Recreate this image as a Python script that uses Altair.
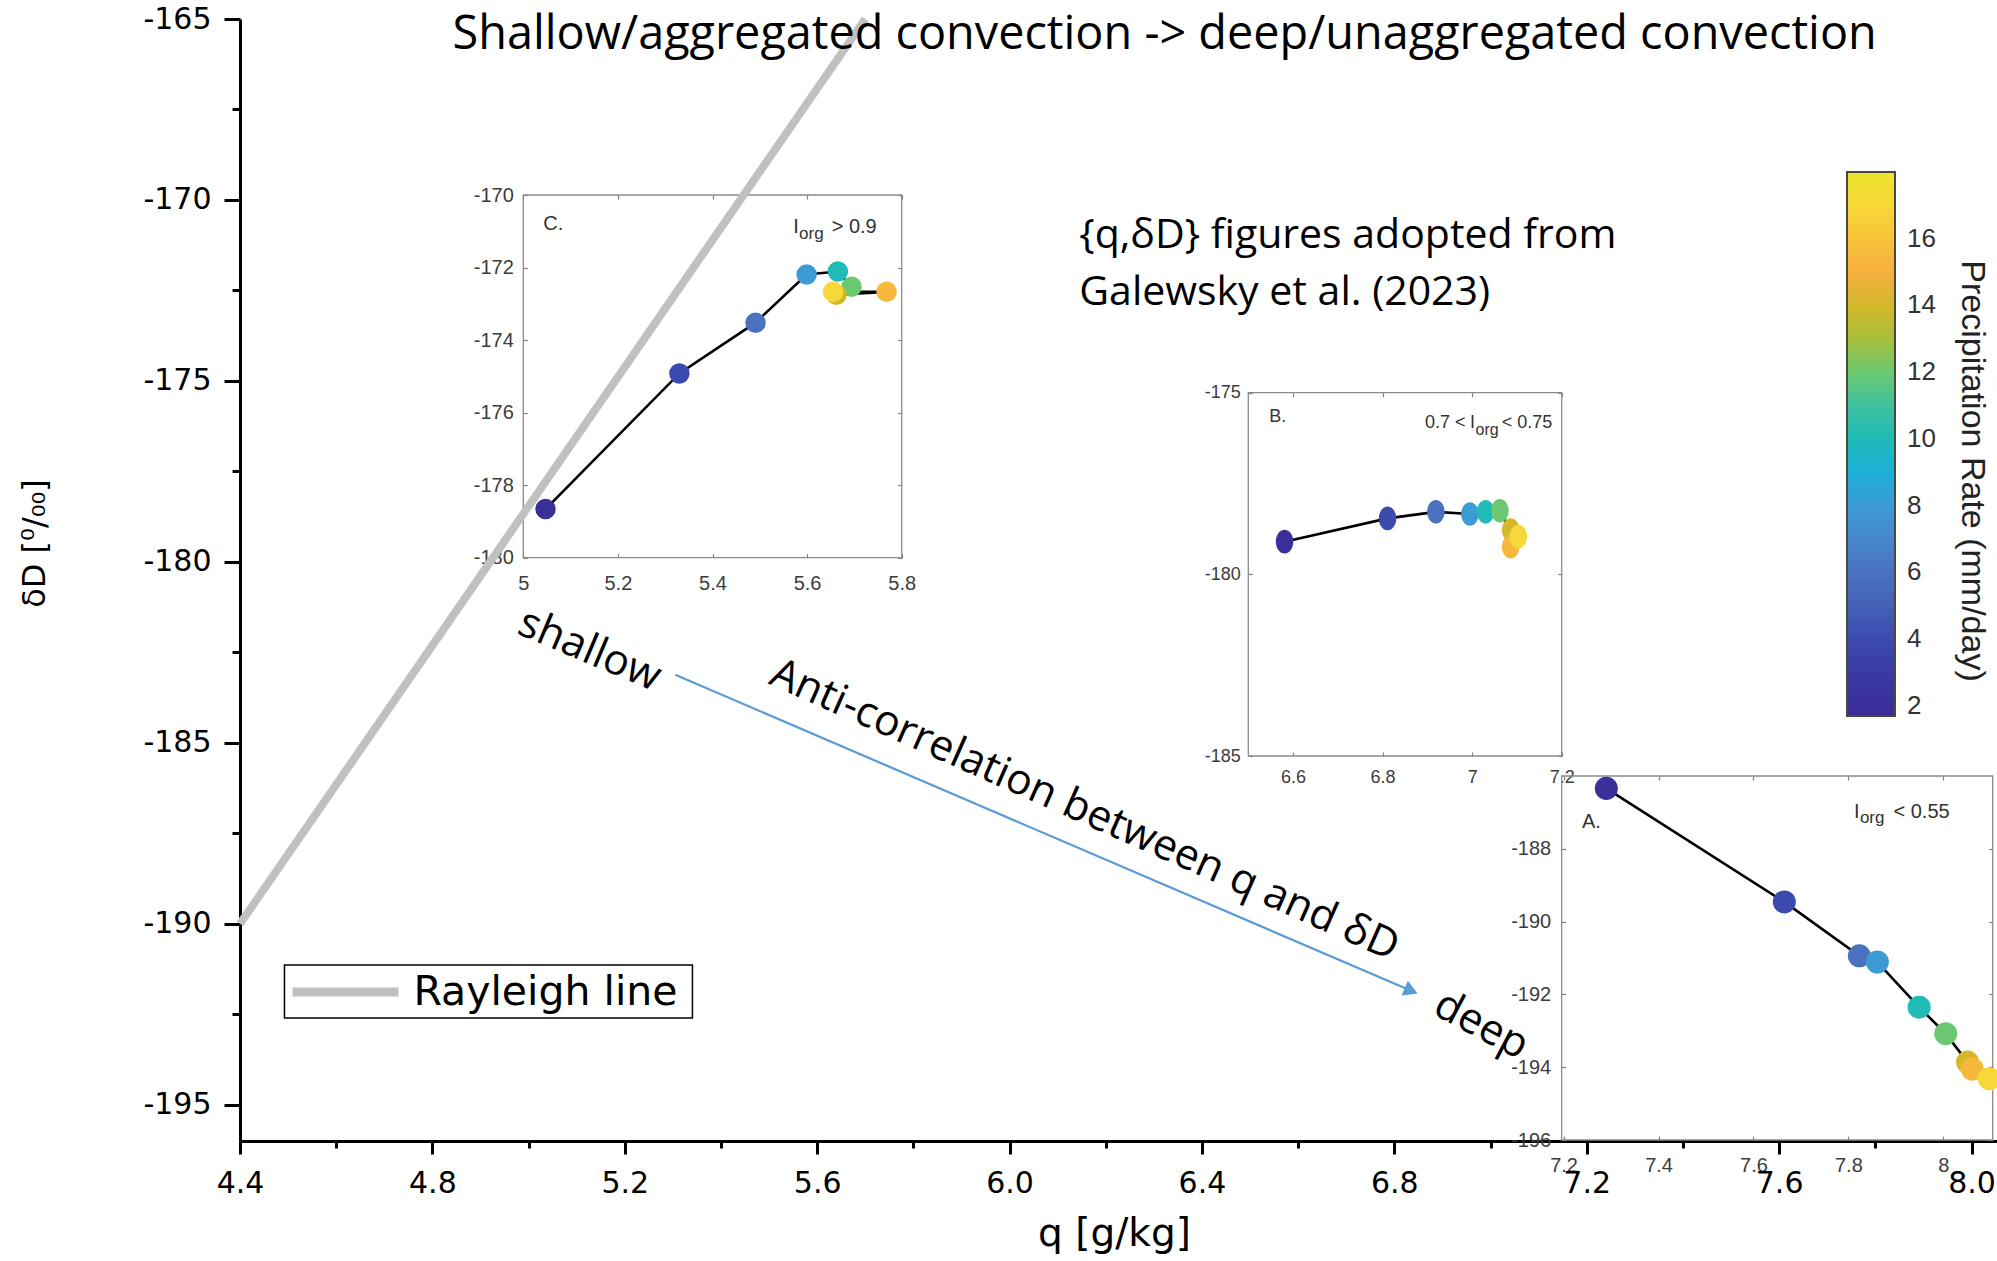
import altair as alt
import pandas as pd

W, H = 1757, 1122

# ---------------- main frame ----------------
MAIN_XD = [4.4, 8.053]
MAIN_YD = [-196.0, -165.0]
X_MAJOR = [4.4, 4.8, 5.2, 5.6, 6.0, 6.4, 6.8, 7.2, 7.6, 8.0]
X_MINOR = [4.6, 5.0, 5.4, 5.8, 6.2, 6.6, 7.0, 7.4, 7.8]
Y_MAJOR = [-195, -190, -185, -180, -175, -170, -165]
Y_MINOR = [-192.5, -187.5, -182.5, -177.5, -172.5, -167.5]

ray_q = [4.4, 5.70]
ray_dD = [-190.0, -165.0]

# legend (drawn in data space of the main axes)
leg_box_q, leg_box_dD = [4.4925, 5.3407], [-191.14, -192.60]
leg_line_q, leg_line_dD = [4.5092, 4.7296], [-191.886, -191.886]
leg_text, leg_text_q, leg_text_dD = ["Rayleigh line"], [4.7607], [-192.245]

arrow_q = [5.305, 6.835]
arrow_dD = [-183.12, -191.85]

title_text, title_q, title_dD = ["Shallow/aggregated convection -> deep/unaggregated convection"], [4.842], [-165.83]
ann_text = ["{q,δD} figures adopted from", "Galewsky et al. (2023)"]
ann_q = [6.145, 6.145]
ann_dD = [-171.0, -172.57]

rot_text = ["shallow", "Anti-correlation between q and δD", "deep"]
rot_q = [5.127, 6.156, 6.981]
rot_dD = [-182.44, -186.86, -192.80]
rot_angle = [23, 24, 28]

cbar_title = ["Precipitation Rate (mm/day)"]
cbar_title_q = [8.0]
cbar_title_dD = [-177.49]

# ---------------- colour scale (precipitation) ----------------
cbar_values = [2, 4, 6, 8, 10, 12, 14, 16]
cbar_domain = [1.7, 3, 4, 5, 6, 7, 8, 9, 10, 11, 12, 13, 14, 15, 16, 17, 18]
cbar_colors = ["#3b2c96", "#3a3aa4", "#3c4aae", "#4460b8", "#4a72c0", "#4888cc",
               "#3c9ad4", "#1cb0d8", "#20bab8", "#3ec2a0", "#6cc870", "#a8c03a",
               "#d4b82a", "#f5b040", "#f9c338", "#f6d838", "#eee42c"]

precip = [2, 4, 6, 8, 10, 12, 14, 15.5, 17]

# ---------------- inset data ----------------
C_q = [5.047, 5.330, 5.491, 5.599, 5.665, 5.694, 5.662, 5.768, 5.655]
C_dD = [-178.66, -174.92, -173.52, -172.19, -172.11, -172.53, -172.75, -172.67, -172.67]
B_q = [6.581, 6.811, 6.919, 6.995, 7.030, 7.062, 7.086, 7.086, 7.103]
B_dD = [-179.10, -178.46, -178.28, -178.34, -178.28, -178.25, -178.78, -179.24, -178.96]
A_q = [7.290, 7.665, 7.823, 7.861, 7.949, 8.005, 8.051, 8.061, 8.097]
A_dD = [-186.34, -189.46, -190.94, -191.11, -192.35, -193.08, -193.86, -194.05, -194.32]

C_xd, C_yd = [5.0, 5.8], [-180.0, -170.0]
B_xd, B_yd = [6.5, 7.2], [-185.0, -175.0]
A_xd, A_yd = [7.196, 8.104], [-196.0, -186.0]
C_xt, C_yt = [5.0, 5.2, 5.4, 5.6, 5.8], [-180, -178, -176, -174, -172, -170]
B_xt, B_yt = [6.6, 6.8, 7.0, 7.2], [-185, -180, -175]
A_xt, A_yt = [7.2, 7.4, 7.6, 7.8, 8.0], [-196, -194, -192, -190, -188]

C_lab, C_lab_q, C_lab_dD = ["C.", "I", "> 0.9"], [5.0423, 5.5708, 5.652], [-170.965, -171.056, -171.056]
C_sub, C_sub_q, C_sub_dD = ["org"], [5.5829], [-171.221]
B_lab, B_lab_q, B_lab_dD = ["B.", "0.7 <", "I", "< 0.75"], [6.547, 6.8947, 6.9952, 7.066], [-175.80, -175.98, -175.98, -175.98]
B_sub, B_sub_q, B_sub_dD = ["org"], [7.0075], [-176.164]
A_lab, A_lab_q, A_lab_dD = ["A.", "I", "< 0.55"], [7.2387, 7.812, 7.895], [-187.44, -187.164, -187.164]
A_sub, A_sub_q, A_sub_dD = ["org"], [7.8242], [-187.30]

# ---------------- layout (pixels inside the plot area) ----------------
TICK = 4
LAYOUT = {
    "C": dict(xr=[283.3, 661.7], yr=[538.7, 176.0], fs=20, sub=17, padx=16, pady=10),
    "B": dict(xr=[1008.3, 1321.7], yr=[737.0, 373.7], fs=18, sub=16, padx=12, pady=8),
    "A": dict(xr=[1321.7, 1752.7], yr=[1121.0, 757.0], fs=20, sub=17, padx=15, pady=11),
}
INSETS = {
    "C": dict(xd=C_xd, yd=C_yd, xt=C_xt, yt=C_yt, q=C_q, d=C_dD,
              lab=(C_lab, C_lab_q, C_lab_dD), sub=(C_sub, C_sub_q, C_sub_dD),
              shape="circle", size=420),
    "B": dict(xd=B_xd, yd=B_yd, xt=B_xt, yt=B_yt, q=B_q, d=B_dD,
              lab=(B_lab, B_lab_q, B_lab_dD), sub=(B_sub, B_sub_q, B_sub_dD),
              shape="M0,-1C0.4087,-1 0.74,-0.5523 0.74,0C0.74,0.5523 0.4087,1 0,1"
                    "C-0.4087,1 -0.74,0.5523 -0.74,0C-0.74,-0.5523 -0.4087,-1 0,-1Z",
              size=560),
    "A": dict(xd=A_xd, yd=A_yd, xt=A_xt, yt=A_yt, q=A_q, d=A_dD,
              lab=(A_lab, A_lab_q, A_lab_dD), sub=(A_sub, A_sub_q, A_sub_dD),
              shape="circle", size=530),
}

HYPHEN = "replace(datum.label, '\u2212', '-')"

color_scale = alt.Scale(domain=cbar_domain, range=cbar_colors, nice=False, zero=False)
color_legend = alt.Legend(
    orient="none", legendX=1607, legendY=153, direction="vertical",
    gradientLength=544, gradientThickness=48, gradientStrokeColor="#4a4a3c",
    gradientStrokeWidth=2, labelFont="Liberation Sans", labelFontSize=26,
    labelColor="#333333", labelOffset=12, values=cbar_values, labelOverlap=False,
    padding=0, format="d")


def scale(dom, rng=None):
    if rng is None:
        return alt.Scale(domain=dom, nice=False, zero=False)
    return alt.Scale(domain=dom, range=rng, nice=False, zero=False)


def mx(field="q", axis=None, title=None):
    return alt.X(f"{field}:Q", scale=scale(MAIN_XD), axis=axis, title=title)


def my(field="dD", axis=None, title=None):
    return alt.Y(f"{field}:Q", scale=scale(MAIN_YD), axis=axis, title=title)


MAIN_FONT = "DejaVu Sans"
ANN_FONT = "Open Sans"

x_major_axis = alt.Axis(orient="bottom", values=X_MAJOR, format=".1f", tickSize=13, tickWidth=3,
                        tickColor="black", domainWidth=3, domainColor="black",
                        labelFont=MAIN_FONT, labelFontSize=30, labelColor="black",
                        labelPadding=14, labelFlush=False, labelOverlap=False, grid=False,
                        titleFont=MAIN_FONT, titleFontSize=39, titleFontWeight="normal",
                        titleColor="black", titleX=874, titleY=92, titleBaseline="middle",
                        titleAlign="center")
y_major_axis = alt.Axis(orient="left", values=Y_MAJOR, format="d", labelExpr=HYPHEN,
                        tickSize=16, tickWidth=3,
                        tickColor="black", domainWidth=3, domainColor="black",
                        labelFont=MAIN_FONT, labelFontSize=30, labelColor="black",
                        labelPadding=13, labelFlush=False, labelOverlap=False, grid=False,
                        titleFont=MAIN_FONT, titleFontSize=32, titleFontWeight="normal",
                        titleColor="black", titleX=-206, titleY=524, titleAngle=-90,
                        titleBaseline="middle", titleAlign="center")
x_minor_axis = alt.Axis(orient="bottom", values=X_MINOR, tickSize=7, tickWidth=3,
                        tickColor="black", domain=False, labels=False, grid=False)
y_minor_axis = alt.Axis(orient="left", values=Y_MINOR, tickSize=8, tickWidth=3,
                        tickColor="black", domain=False, labels=False, grid=False)

layers = []

# ---------------- insets ----------------
for key in ["C", "B", "A"]:
    ins, lay = INSETS[key], LAYOUT[key]
    xs = scale(ins["xd"], lay["xr"])
    ys = scale(ins["yd"], lay["yr"])
    common = dict(tickSize=TICK, tickWidth=1.2, tickColor="#7f7f7f", domain=False, grid=False,
                  labelFont="Liberation Sans", labelFontSize=lay["fs"], labelColor="#3c3c3c",
                  labelFlush=False, labelOverlap=False, labelBound=False, format="~g",
                  labelExpr=HYPHEN)
    ax_b = alt.Axis(orient="bottom", values=ins["xt"], offset=lay["yr"][0] - H - TICK,
                    labelPadding=lay["padx"], **common)
    ax_l = alt.Axis(orient="left", values=ins["yt"], offset=-(lay["xr"][0] + TICK),
                    labelPadding=lay["pady"], **common)
    ax_t = alt.Axis(orient="top", values=ins["xt"], offset=-(lay["yr"][1] + TICK),
                    labels=False, **common)
    ax_r = alt.Axis(orient="right", values=ins["yt"], offset=lay["xr"][1] - W - TICK,
                    labels=False, **common)

    frame = pd.DataFrame({"x0": [ins["xd"][0]], "x1": [ins["xd"][1]],
                          "y0": [ins["yd"][0]], "y1": [ins["yd"][1]]})
    layers.append(alt.Chart(frame).mark_rect(fillOpacity=0, stroke="#8a8a8a", strokeWidth=1.3).encode(
        x=alt.X("x0:Q", scale=xs, axis=ax_b, title=None), x2="x1:Q",
        y=alt.Y("y0:Q", scale=ys, axis=ax_l, title=None), y2="y1:Q"))

    curve = pd.DataFrame({"q": ins["q"], "dD": ins["d"], "p": precip, "i": list(range(len(ins["q"])))})
    layers.append(alt.Chart(curve).mark_line(color="black", strokeWidth=2.6).encode(
        x=alt.X("q:Q", scale=xs, axis=ax_t, title=None),
        y=alt.Y("dD:Q", scale=ys, axis=ax_r, title=None),
        order="i:Q"))
    layers.append(alt.Chart(curve).mark_point(filled=True, shape=ins["shape"], size=ins["size"],
                                              opacity=1, strokeWidth=0).encode(
        x=alt.X("q:Q", scale=xs, axis=None, title=None),
        y=alt.Y("dD:Q", scale=ys, axis=None, title=None),
        color=alt.Color("p:Q", scale=color_scale, legend=color_legend, title=None),
        order="i:Q"))

    t, tq, td = ins["lab"]
    layers.append(alt.Chart(pd.DataFrame({"t": t, "q": tq, "dD": td})).mark_text(
        align="left", baseline="alphabetic", font="Liberation Sans", fontSize=lay["fs"],
        color="#333333").encode(
        x=alt.X("q:Q", scale=xs, axis=None, title=None),
        y=alt.Y("dD:Q", scale=ys, axis=None, title=None), text="t:N"))
    t, tq, td = ins["sub"]
    layers.append(alt.Chart(pd.DataFrame({"t": t, "q": tq, "dD": td})).mark_text(
        align="left", baseline="alphabetic", font="Liberation Sans", fontSize=lay["sub"],
        color="#333333").encode(
        x=alt.X("q:Q", scale=xs, axis=None, title=None),
        y=alt.Y("dD:Q", scale=ys, axis=None, title=None), text="t:N"))

# ---------------- main layers ----------------
ray = pd.DataFrame({"q": ray_q, "dD": ray_dD})
layers.append(alt.Chart(ray).mark_line(strokeWidth=8, strokeCap="butt", color="#c0c0c0").encode(
    x=mx(axis=x_major_axis, title="q [g/kg]"),
    y=my(axis=y_major_axis, title="δD [⁰/₀₀]")))

arrow = pd.DataFrame({"q": arrow_q, "dD": arrow_dD})
layers.append(alt.Chart(arrow).mark_line(color="#5b9bd5", strokeWidth=2.2).encode(
    x=mx(axis=x_minor_axis), y=my(axis=y_minor_axis)))
layers.append(alt.Chart(arrow.tail(1)).mark_point(shape="triangle-right", angle=23, filled=True,
                                                  color="#5b9bd5", size=260, opacity=1).encode(
    x=mx(), y=my()))

# legend box for the Rayleigh line
box = pd.DataFrame({"q0": [leg_box_q[0]], "q1": [leg_box_q[1]],
                    "d0": [leg_box_dD[0]], "d1": [leg_box_dD[1]]})
layers.append(alt.Chart(box).mark_rect(fill="white", stroke="black", strokeWidth=1.5).encode(
    x=mx("q0"), x2="q1:Q", y=my("d0"), y2="d1:Q"))
layers.append(alt.Chart(pd.DataFrame({"q": leg_line_q, "dD": leg_line_dD})).mark_line(
    strokeWidth=9, strokeCap="butt", color="#c0c0c0").encode(x=mx(), y=my()))
layers.append(alt.Chart(pd.DataFrame({"t": leg_text, "q": leg_text_q, "dD": leg_text_dD})).mark_text(
    align="left", baseline="alphabetic", font=MAIN_FONT, fontSize=41, color="black").encode(
    x=mx(), y=my(), text="t:N"))

layers.append(alt.Chart(pd.DataFrame({"t": title_text, "q": title_q, "dD": title_dD})).mark_text(
    align="left", baseline="alphabetic", font=ANN_FONT, fontSize=46.8, color="black").encode(
    x=mx(), y=my(), text="t:N"))

ann = pd.DataFrame({"t": ann_text, "q": ann_q, "dD": ann_dD})
layers.append(alt.Chart(ann).mark_text(align="left", baseline="middle", font=ANN_FONT,
                                       fontSize=41, color="black").encode(
    x=mx(), y=my(), text="t:N"))

rot = pd.DataFrame({"t": rot_text, "q": rot_q, "dD": rot_dD, "a": rot_angle})
layers.append(alt.Chart(rot).mark_text(align="center", baseline="middle", font=ANN_FONT,
                                       fontSize=42.5, color="black").encode(
    x=mx(), y=my(), text="t:N", angle=alt.Angle("a:Q", scale=None)))

cbt = pd.DataFrame({"t": cbar_title, "q": cbar_title_q, "dD": cbar_title_dD})
layers.append(alt.Chart(cbt).mark_text(align="center", baseline="middle", font="Liberation Sans",
                                       fontSize=34, angle=90, color="#222222").encode(
    x=mx(), y=my(), text="t:N"))

chart = alt.layer(*layers).resolve_scale(x="independent", y="independent").properties(
    width=W, height=H,
    autosize=alt.AutoSizeParams(type="none"),
    padding={"left": 240, "top": 19, "right": 0, "bottom": 120},
).configure_view(strokeWidth=0)

chart.save("out.html", embed_options={"renderer": "svg", "actions": False})
